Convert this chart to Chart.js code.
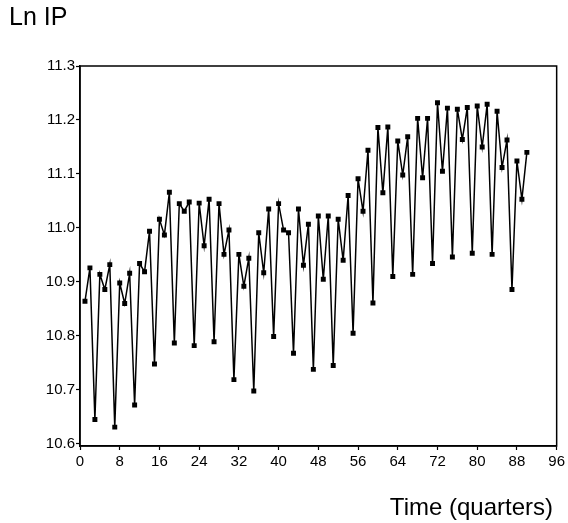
<!DOCTYPE html>
<html>
<head>
<meta charset="utf-8">
<script src="https://cdn.jsdelivr.net/npm/chart.js@4.4.0/dist/chart.umd.min.js"></script>
<style>
  body { margin: 0; background: #fff; }
  #wrap { width: 568px; height: 523px; }
</style>
</head>
<body>
<div id="wrap"><canvas id="myChart"></canvas></div>
<script>
// Ln IP, quarters 1..90
var lnIP = [
    10.864, 10.926, 10.645, 10.914, 10.886, 10.932, 10.631, 10.898, 10.860, 10.916,
    10.672, 10.934, 10.919, 10.994, 10.748, 11.016, 10.987, 11.066, 10.787, 11.045,
    11.031, 11.048, 10.782, 11.046, 10.967, 11.053, 10.789, 11.045, 10.951, 10.996,
    10.719, 10.951, 10.892, 10.944, 10.698, 10.991, 10.917, 11.035, 10.799, 11.045,
    10.996, 10.991, 10.768, 11.035, 10.931, 11.007, 10.738, 11.022, 10.905, 11.022,
    10.745, 11.016, 10.940, 11.060, 10.805, 11.091, 11.031, 11.144, 10.861, 11.186,
    11.065, 11.187, 10.910, 11.161, 11.098, 11.169, 10.914, 11.203, 11.093, 11.203,
    10.934, 11.232, 11.105, 11.222, 10.946, 11.220, 11.164, 11.223, 10.953, 11.226,
    11.150, 11.229, 10.951, 11.216, 11.112, 11.163, 10.886, 11.124, 11.053, 11.140
];
var firstQuarter = 1;
var xTicks = [0, 8, 16, 24, 32, 40, 48, 56, 64, 72, 80, 88, 96];
var yTicks = [10.6, 10.7, 10.8, 10.9, 11.0, 11.1, 11.2, 11.3];

var FONT = '"Liberation Sans", Arial, Helvetica, sans-serif';

var points = lnIP.map(function(v, i) {
    return { x: firstQuarter + i, y: v };
});

// frame round the plot, "Ln IP" and the x axis title
var framePlugin = {
    id: 'frame',
    afterDraw: function(chart) {
        var c = chart.ctx, a = chart.chartArea;
        c.save();
        c.strokeStyle = '#000';
        c.lineWidth = 1.5;
        c.strokeRect(a.left, a.top, a.right - a.left, a.bottom - a.top);
        c.fillStyle = '#000';
        c.textBaseline = 'middle';
        c.font = '25px ' + FONT;
        c.textAlign = 'left';
        c.fillText('Ln IP', 9, 18);
        c.font = '24px ' + FONT;
        c.textAlign = 'right';
        c.fillText('Time (quarters)', 553, 508);
        c.restore();
    }
};

var ctx = document.getElementById('myChart').getContext('2d');
var chart = new Chart(ctx, {
    type: 'line',
    data: {
        datasets: [{
            label: 'Ln IP',
            data: points,
            borderColor: '#000',
            backgroundColor: '#000',
            borderWidth: 1.5,
            pointStyle: 'rect',
            pointRadius: 3.5,
            pointBorderWidth: 0,
            fill: false,
            tension: 0
        }]
    },
    options: {
        responsive: true,
        maintainAspectRatio: false,
        animation: false,
        layout: { padding: { left: 0, right: 10, top: 66, bottom: 0 } },
        plugins: {
            legend: { display: false },
            tooltip: { enabled: false }
        },
        scales: {
            x: {
                type: 'linear',
                min: xTicks[0],
                max: xTicks[xTicks.length - 1],
                afterBuildTicks: function(s) {
                    s.ticks = xTicks.map(function(v) { return { value: v }; });
                },
                afterFit: function(s) { s.height = 77; },
                grid: { drawOnChartArea: false, tickLength: 4, color: '#000', tickWidth: 1.2 },
                border: { color: '#000', width: 1.5 },
                ticks: {
                    color: '#000',
                    font: { family: FONT, size: 15 },
                    padding: 3,
                    maxRotation: 0,
                    autoSkip: false
                }
            },
            y: {
                min: 10.596,
                max: yTicks[yTicks.length - 1],
                afterBuildTicks: function(s) {
                    s.ticks = yTicks.map(function(v) { return { value: v }; });
                },
                afterFit: function(s) { s.width = 80; },
                grid: { drawOnChartArea: false, tickLength: 4, color: '#000', tickWidth: 1.2 },
                border: { color: '#000', width: 1.5 },
                ticks: {
                    color: '#000',
                    font: { family: FONT, size: 15 },
                    padding: 1,
                    callback: function(v) { return v.toFixed(1); }
                }
            }
        }
    },
    plugins: [framePlugin]
});
</script>
</body>
</html>
